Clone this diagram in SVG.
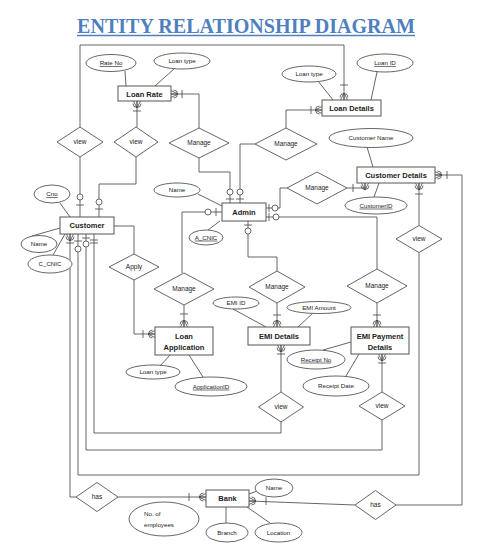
<svg xmlns="http://www.w3.org/2000/svg" xmlns:xlink="http://www.w3.org/1999/xlink" width="479" height="554" viewBox="0 0 479 554">
<style>
.ent{fill:#fff;stroke:#555;stroke-width:1}
.att{fill:#fff;stroke:#555;stroke-width:0.9}
.rel{fill:#fff;stroke:#555;stroke-width:0.9}
.ln{fill:none;stroke:#555;stroke-width:0.9}
.sym{fill:none;stroke:#444;stroke-width:0.8}
.ci{fill:#fff;stroke:#444;stroke-width:0.8}
text{font-family:"Liberation Sans",Arial,sans-serif;fill:#222;text-anchor:middle}
.et{font-size:7.5px;font-weight:bold}
.at{font-size:6.2px}
.rt{font-size:6.5px}
.u{text-decoration:underline}
</style>
<defs>
<g id="crow" class="sym"><path d="M-7,0 L0,-3.5 M-7,0 L0,0 M-7,0 L0,3.5 M-2.5,-4 A4,4 0 0 0 -2.5,4"/></g>
</defs>
<rect width="479" height="554" fill="#fff"/>
<g id="title">
<text x="246" y="33" style="font-family:'Liberation Serif','Times New Roman',serif;font-weight:bold;font-size:20px;fill:#4f7fbf" textLength="338" lengthAdjust="spacingAndGlyphs">ENTITY RELATIONSHIP DIAGRAM</text>
<line x1="77" y1="35.5" x2="415" y2="35.5" stroke="#4f7fbf" stroke-width="1.5"/>
</g>
<g id="connectors">
<path class="ln" d="M80,127 V45 H344 V100"/>
<path class="sym" d="M340,85 H348"/>
<use href="#crow" transform="translate(344,100) rotate(90)"/>
<path class="ln" d="M80,157 V217"/>
<path class="sym" d="M76,205 H84"/><circle class="ci" cx="80" cy="197" r="3"/>
<path class="ln" d="M137,101 V127"/>
<use href="#crow" transform="translate(137,101) rotate(-90)"/>
<path class="sym" d="M133,111 H141"/>
<path class="ln" d="M136,157 V184 H99 V217"/>
<path class="sym" d="M95,209 H103"/><circle class="ci" cx="99" cy="202" r="3"/>
<path class="ln" d="M171,94 H199 V128"/>
<use href="#crow" transform="translate(171,94) rotate(180)"/>
<path class="sym" d="M182,90 V98"/>
<path class="ln" d="M199,158 V172 H230 V203"/>
<path class="sym" d="M226,199 H234"/><circle class="ci" cx="230" cy="192" r="3"/>
<path class="ln" d="M322,110 H286 V128"/>
<use href="#crow" transform="translate(322,110)"/>
<path class="sym" d="M311,106 V114"/>
<path class="ln" d="M255,144 H240 V203"/>
<path class="sym" d="M236,199 H244"/><circle class="ci" cx="240" cy="192" r="3"/>
<path class="ln" d="M266,208 H280 V188 H287"/>
<path class="sym" d="M269,204 V212"/><circle class="ci" cx="275" cy="208" r="3"/>
<path class="ln" d="M266,217 H377 V269"/>
<path class="sym" d="M269,213 V221"/><circle class="ci" cx="276" cy="217" r="3"/>
<path class="ln" d="M347,188 H365 V183"/>
<path class="sym" d="M353,184 V192"/>
<use href="#crow" transform="translate(365,183) rotate(-90)"/>
<path class="ln" d="M435,175 H462 V505 H396"/>
<use href="#crow" transform="translate(435,175) rotate(180)"/>
<path class="sym" d="M447,171 V179"/>
<path class="ln" d="M419,183 V225.5"/>
<use href="#crow" transform="translate(419,183) rotate(-90)"/>
<path class="sym" d="M415,194 H423"/>
<path class="ln" d="M419,252.5 V475 H78 V234"/>
<path class="ln" d="M222,212 H182 V273"/>
<path class="sym" d="M216,208 V216"/><circle class="ci" cx="208" cy="212" r="3"/>
<path class="ln" d="M114,226 H134 V254"/>
<path class="ln" d="M134,280 V334 H155"/>
<path class="sym" d="M143,330 V338"/>
<use href="#crow" transform="translate(155,334)"/>
<path class="ln" d="M184,305 V327"/>
<path class="sym" d="M180,314 H188"/>
<use href="#crow" transform="translate(184,327) rotate(90)"/>
<path class="ln" d="M248,221 V257 H277 V271"/>
<path class="sym" d="M244,225 H252"/><circle class="ci" cx="248" cy="231" r="3"/>
<path class="ln" d="M277,303 V327"/>
<path class="sym" d="M273,315 H281"/>
<use href="#crow" transform="translate(277,327) rotate(90)"/>
<path class="ln" d="M281,345 V392"/>
<use href="#crow" transform="translate(281,345) rotate(-90)"/>
<path class="sym" d="M277,354 H285"/>
<path class="ln" d="M281,422 V433 H94 V234"/>
<path class="ln" d="M377,303 V327"/>
<path class="sym" d="M373,315 H381"/>
<use href="#crow" transform="translate(377,327) rotate(90)"/>
<path class="ln" d="M382,354 V392"/>
<use href="#crow" transform="translate(382,354) rotate(-90)"/>
<path class="sym" d="M378,363 H386"/>
<path class="ln" d="M382,420 V450 H86 V234"/>
<path class="ln" d="M70,234 V497 H76"/>
<use href="#crow" transform="translate(70,234) rotate(-90)"/>
<path class="sym" d="M66,243 H74 M74,241 H82 M90,240 H98 M90,243 H98 M82,238 H90"/>
<circle class="ci" cx="78" cy="249" r="3"/><circle class="ci" cx="86" cy="244" r="3"/>
<path class="ln" d="M118,497 H206"/>
<path class="sym" d="M189,493 V501"/>
<use href="#crow" transform="translate(206,497)"/>
<path class="ln" d="M355,505 L249,501"/>
<path class="sym" d="M266,497 V505"/>
<use href="#crow" transform="translate(249,501) rotate(180)"/>
<path class="ln" d="M125,71 L126,86 M175,68 L155,86 M318,81 L333,100 M377,72 L371,100 M367,147 L373,167 M379,183 L374,197 M60,203 L70,217 M32,236 L60,228 M53,255 L65,234 M198,194 L222,206 M220,221 L208,230 M160,366 L170,355 M189,355 L203,377 M233,309 L266,327 M313,313 L298,327 M323,350 L351,342 M346,376 L359,354 M249,494 L257,491 M226,507 L226,523 M247,507 L270,523"/>
</g>
<g id="loan-rate"><rect class="ent" x="118" y="86" width="53" height="15"/><text class="et" x="144.5" y="96.5">Loan Rate</text></g>
<g id="loan-details"><rect class="ent" x="322" y="100" width="59" height="16"/><text class="et" x="351.5" y="110.8">Loan Details</text></g>
<g id="customer-details"><rect class="ent" x="357" y="167" width="78" height="16"/><text class="et" x="396" y="177.8">Customer Details</text></g>
<g id="customer"><rect class="ent" x="60" y="217" width="54" height="17"/><text class="et" x="87" y="228.3">Customer</text></g>
<g id="admin"><rect class="ent" x="222" y="203" width="44" height="18"/><text class="et" x="244" y="214.8">Admin</text></g>
<g id="loan-application"><rect class="ent" x="155" y="327" width="58" height="28"/><text class="et" x="184" y="338.5">Loan</text><text class="et" x="184" y="350">Application</text></g>
<g id="emi-details"><rect class="ent" x="248" y="327" width="62" height="18"/><text class="et" x="279" y="338.8">EMI Details</text></g>
<g id="emi-payment-details"><rect class="ent" x="351" y="327" width="58" height="27"/><text class="et" x="380" y="338.5">EMI Payment</text><text class="et" x="380" y="349.5">Details</text></g>
<g id="bank"><rect class="ent" x="206" y="490" width="43" height="17"/><text class="et" x="227.5" y="501.3">Bank</text></g>
<g id="attr-rate-no"><ellipse class="att" cx="111" cy="63" rx="25" ry="8.5"/><text class="at u" x="111" y="65.2">Rate No</text></g>
<g id="attr-lr-loan-type"><ellipse class="att" cx="182" cy="61" rx="28" ry="8"/><text class="at" x="182" y="63.2">Loan type</text></g>
<g id="attr-ld-loan-type"><ellipse class="att" cx="309" cy="74" rx="27" ry="8"/><text class="at" x="309" y="76.2">Loan type</text></g>
<g id="attr-loan-id"><ellipse class="att" cx="385" cy="63" rx="28" ry="9"/><text class="at u" x="385" y="65.2">Loan ID</text></g>
<g id="attr-customer-name"><ellipse class="att" cx="371" cy="138" rx="42" ry="9.5"/><text class="at" x="371" y="140.2">Customer Name</text></g>
<g id="attr-customer-id"><ellipse class="att" cx="376" cy="205.5" rx="31" ry="8.5"/><text class="at u" x="376" y="207.7">CustomerID</text></g>
<g id="attr-cno"><ellipse class="att" cx="52" cy="194" rx="18" ry="9"/><text class="at u" x="52" y="196.2">Cno</text></g>
<g id="attr-cust-name"><ellipse class="att" cx="39" cy="244" rx="18" ry="8.5"/><text class="at" x="39" y="246.2">Name</text></g>
<g id="attr-c-cnic"><ellipse class="att" cx="50" cy="264" rx="22" ry="9"/><text class="at" x="50" y="266.2">C_CNIC</text></g>
<g id="attr-admin-name"><ellipse class="att" cx="177" cy="190" rx="23" ry="7"/><text class="at" x="177" y="192.2">Name</text></g>
<g id="attr-a-cnic"><ellipse class="att" cx="206" cy="237.5" rx="17" ry="7.5"/><text class="at u" x="206" y="239.7">A_CNIC</text></g>
<g id="attr-la-loan-type"><ellipse class="att" cx="153" cy="372" rx="27" ry="7"/><text class="at" x="153" y="374.2">Loan type</text></g>
<g id="attr-application-id"><ellipse class="att" cx="211" cy="386.5" rx="36" ry="9.5"/><text class="at u" x="211" y="388.7">ApplicationID</text></g>
<g id="attr-emi-id"><ellipse class="att" cx="236" cy="303" rx="23" ry="6"/><text class="at" x="236" y="305.2">EMI ID</text></g>
<g id="attr-emi-amount"><ellipse class="att" cx="319" cy="307.5" rx="32" ry="6"/><text class="at" x="319" y="309.7">EMI Amount</text></g>
<g id="attr-receipt-no"><ellipse class="att" cx="316" cy="359.5" rx="29" ry="9.5"/><text class="at u" x="316" y="361.7">Receipt No</text></g>
<g id="attr-receipt-date"><ellipse class="att" cx="336" cy="386" rx="33" ry="10"/><text class="at" x="336" y="388.2">Receipt Date</text></g>
<g id="attr-bank-name"><ellipse class="att" cx="274" cy="488" rx="19" ry="9"/><text class="at" x="274" y="490.2">Name</text></g>
<g id="attr-branch"><ellipse class="att" cx="227" cy="532.5" rx="21" ry="9.5"/><text class="at" x="227" y="534.7">Branch</text></g>
<g id="attr-location"><ellipse class="att" cx="278.5" cy="532.5" rx="23.5" ry="9.5"/><text class="at" x="278.5" y="534.7">Location</text></g>
<g id="attr-employees"><ellipse class="att" cx="164" cy="519" rx="35" ry="17"/><text class="at" x="144" y="516" style="text-anchor:start">No. of</text><text class="at" x="144" y="526.5" style="text-anchor:start">employees</text></g>
<g id="rel-view-1"><polygon class="rel" points="57,142 80,127 103,142 80,157"/><text class="rt" x="80" y="144.3">view</text></g>
<g id="rel-view-2"><polygon class="rel" points="114,142 136,127 158,142 136,157"/><text class="rt" x="136" y="144.3">view</text></g>
<g id="rel-manage-lr"><polygon class="rel" points="169,143 199,128 229,143 199,158"/><text class="rt" x="199" y="145.3">Manage</text></g>
<g id="rel-manage-ld"><polygon class="rel" points="255,144 286,128 317,144 286,160"/><text class="rt" x="286" y="146.3">Manage</text></g>
<g id="rel-manage-cd"><polygon class="rel" points="287,188 317,172 347,188 317,204"/><text class="rt" x="317" y="190.3">Manage</text></g>
<g id="rel-view-cd"><polygon class="rel" points="396,239 419,225.5 442,239 419,252.5"/><text class="rt" x="419" y="241.3">view</text></g>
<g id="rel-apply"><polygon class="rel" points="109,267 134,254 159,267 134,280"/><text class="rt" x="134" y="269.3">Apply</text></g>
<g id="rel-manage-la"><polygon class="rel" points="154,289 184,273 214,289 184,305"/><text class="rt" x="184" y="291.3">Manage</text></g>
<g id="rel-manage-emi"><polygon class="rel" points="249,287 277,271 305,287 277,303"/><text class="rt" x="277" y="289.3">Manage</text></g>
<g id="rel-manage-emip"><polygon class="rel" points="347,286 377,269 407,286 377,303"/><text class="rt" x="377" y="288.3">Manage</text></g>
<g id="rel-view-emi"><polygon class="rel" points="258.5,407 281,392 303.5,407 281,422"/><text class="rt" x="281" y="409.3">view</text></g>
<g id="rel-view-emip"><polygon class="rel" points="359,406 382,392 405,406 382,420"/><text class="rt" x="382" y="408.3">view</text></g>
<g id="rel-has-1"><polygon class="rel" points="76,497 97,482.5 118,497 97,511.5"/><text class="rt" x="97" y="499.3">has</text></g>
<g id="rel-has-2"><polygon class="rel" points="355,505 375.5,490.5 396,505 375.5,519.5"/><text class="rt" x="375.5" y="507.3">has</text></g>
</svg>
